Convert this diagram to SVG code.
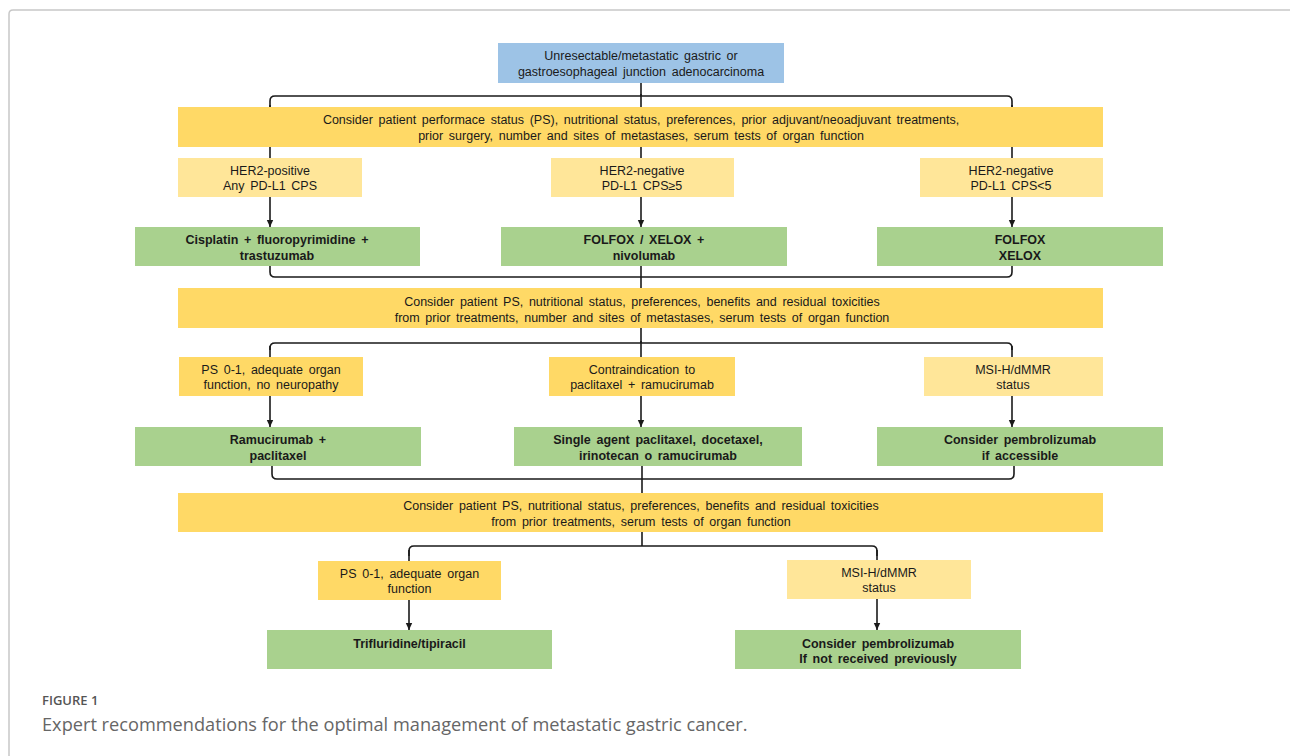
<svg xmlns="http://www.w3.org/2000/svg" width="1290" height="756" viewBox="0 0 1290 756">
<style>
.t{font-family:"Liberation Sans",Arial,sans-serif;font-size:12.5px;fill:#1a1a1a;text-anchor:middle;word-spacing:2.2px}
.b{font-weight:bold}
.blue{fill:#9DC3E6}
.band{fill:#FFD966}
.ly{fill:#FFE699}
.sy{fill:#FFD966}
.gr{fill:#A9D18E}
.ln{fill:none;stroke:#1a1a1a;stroke-width:1.6}
.cap1{font-family:"Open Sans",sans-serif;font-size:13px;font-weight:600;fill:#555}
.cap2{font-family:"Open Sans",sans-serif;font-size:18.2px;fill:#666}
</style>
<defs>
<marker id="ah" markerUnits="userSpaceOnUse" markerWidth="8" markerHeight="8" refX="7" refY="4" orient="auto">
<path d="M0,0.8 L7,4 L0,7.2 Z" fill="#1a1a1a"/>
</marker>
</defs>
<rect width="1290" height="756" fill="#fff"/>
<path d="M9,756 V14 Q9,10 13,10 H1290" fill="none" stroke="#c8c8c8" stroke-width="1.5"/>

<g id="connectors">
<path class="ln" d="M641,83 V96"/>
<path class="ln" d="M270,110 V101 Q270,96 275,96 H1007 Q1012,96 1012,101 V110"/>
<path class="ln" d="M270,105 V227" marker-end="url(#ah)"/>
<path class="ln" d="M641,94 V227" marker-end="url(#ah)"/>
<path class="ln" d="M1012,105 V227" marker-end="url(#ah)"/>

<path class="ln" d="M270,264 V272 Q270,277 275,277 H1007 Q1012,277 1012,272 V264"/>
<path class="ln" d="M641,264 V289"/>

<path class="ln" d="M641,326 V343"/>
<path class="ln" d="M270,350 V348 Q270,343 275,343 H1007 Q1012,343 1012,348 V350"/>
<path class="ln" d="M270,346 V427" marker-end="url(#ah)"/>
<path class="ln" d="M641,341 V427" marker-end="url(#ah)"/>
<path class="ln" d="M1012,346 V427" marker-end="url(#ah)"/>

<path class="ln" d="M272,464 V474 Q272,479 277,479 H1009 Q1014,479 1014,474 V464"/>
<path class="ln" d="M642,464 V494"/>

<path class="ln" d="M642,530 V546"/>
<path class="ln" d="M409,556 V551 Q409,546 414,546 H872 Q877,546 877,551 V556"/>
<path class="ln" d="M409,550 V630" marker-end="url(#ah)"/>
<path class="ln" d="M877,550 V630" marker-end="url(#ah)"/>
</g>

<g id="n_start">
<rect class="blue" x="498" y="43" width="286" height="40"/>
<text class="t" x="641" y="60">Unresectable/metastatic gastric or</text>
<text class="t" x="641" y="76">gastroesophageal junction adenocarcinoma</text>
</g>

<g id="n_consider1">
<rect class="band" x="178" y="107" width="925" height="40"/>
<text class="t" x="641" y="124">Consider patient performace status (PS), nutritional status, preferences, prior adjuvant/neoadjuvant treatments,</text>
<text class="t" x="641" y="140">prior surgery, number and sites of metastases, serum tests of organ function</text>
</g>

<g id="n_her2pos">
<rect class="ly" x="178" y="158" width="184" height="39"/>
<text class="t" x="270" y="174.5">HER2-positive</text>
<text class="t" x="270" y="190">Any PD-L1 CPS</text>
</g>
<g id="n_her2neg5">
<rect class="ly" x="551" y="158" width="183" height="39"/>
<text class="t" x="642" y="174.5">HER2-negative</text>
<text class="t" x="642" y="190">PD-L1 CPS≥5</text>
</g>
<g id="n_her2neglt5">
<rect class="ly" x="920" y="158" width="183" height="39"/>
<text class="t" x="1011" y="174.5">HER2-negative</text>
<text class="t" x="1011" y="190">PD-L1 CPS&lt;5</text>
</g>

<g id="n_cisplatin">
<rect class="gr" x="135" y="227" width="285" height="39"/>
<text class="t b" x="277" y="243.5">Cisplatin + fluoropyrimidine +</text>
<text class="t b" x="277" y="259.5">trastuzumab</text>
</g>
<g id="n_folfox_nivo">
<rect class="gr" x="501" y="227" width="286" height="39"/>
<text class="t b" x="644" y="243.5">FOLFOX / XELOX +</text>
<text class="t b" x="644" y="259.5">nivolumab</text>
</g>
<g id="n_folfox">
<rect class="gr" x="877" y="227" width="286" height="39"/>
<text class="t b" x="1020" y="243.5">FOLFOX</text>
<text class="t b" x="1020" y="259.5">XELOX</text>
</g>

<g id="n_consider2">
<rect class="band" x="178" y="288" width="925" height="40"/>
<text class="t" x="642" y="306">Consider patient PS, nutritional status, preferences, benefits and residual toxicities</text>
<text class="t" x="642" y="321.5">from prior treatments, number and sites of metastases, serum tests of organ function</text>
</g>

<g id="n_ps01a">
<rect class="sy" x="179" y="357" width="184" height="39"/>
<text class="t" x="271" y="373.5">PS 0-1, adequate organ</text>
<text class="t" x="271" y="389">function, no neuropathy</text>
</g>
<g id="n_contra">
<rect class="sy" x="549" y="357" width="186" height="39"/>
<text class="t" x="642" y="373.5">Contraindication to</text>
<text class="t" x="642" y="389">paclitaxel + ramucirumab</text>
</g>
<g id="n_msi1">
<rect class="ly" x="924" y="357" width="179" height="39"/>
<text class="t" x="1013" y="373.5">MSI-H/dMMR</text>
<text class="t" x="1013" y="389">status</text>
</g>

<g id="n_ramu">
<rect class="gr" x="135" y="427" width="286" height="39"/>
<text class="t b" x="278" y="443.5">Ramucirumab +</text>
<text class="t b" x="278" y="459.5">paclitaxel</text>
</g>
<g id="n_single">
<rect class="gr" x="514" y="427" width="288" height="39"/>
<text class="t b" x="658" y="443.5">Single agent paclitaxel, docetaxel,</text>
<text class="t b" x="658" y="459.5">irinotecan o ramucirumab</text>
</g>
<g id="n_pembro1">
<rect class="gr" x="877" y="427" width="286" height="39"/>
<text class="t b" x="1020" y="443.5">Consider pembrolizumab</text>
<text class="t b" x="1020" y="459.5">if accessible</text>
</g>

<g id="n_consider3">
<rect class="band" x="178" y="493" width="925" height="39"/>
<text class="t" x="641" y="509.5">Consider patient PS, nutritional status, preferences, benefits and residual toxicities</text>
<text class="t" x="641" y="525.5">from prior treatments, serum tests of organ function</text>
</g>

<g id="n_ps01b">
<rect class="sy" x="318" y="561" width="183" height="39"/>
<text class="t" x="409.5" y="577.5">PS 0-1, adequate organ</text>
<text class="t" x="409.5" y="592.5">function</text>
</g>
<g id="n_msi2">
<rect class="ly" x="787" y="560" width="184" height="39"/>
<text class="t" x="879" y="577">MSI-H/dMMR</text>
<text class="t" x="879" y="592">status</text>
</g>

<g id="n_trif">
<rect class="gr" x="267" y="630" width="285" height="39"/>
<text class="t b" x="409.5" y="647.5">Trifluridine/tipiracil</text>
</g>
<g id="n_pembro2">
<rect class="gr" x="735" y="630" width="286" height="39"/>
<text class="t b" x="878" y="647.5">Consider pembrolizumab</text>
<text class="t b" x="878" y="663">If not received previously</text>
</g>

<text class="cap1" x="42" y="705">FIGURE 1</text>
<text class="cap2" x="42" y="731">Expert recommendations for the optimal management of metastatic gastric cancer.</text>
</svg>
